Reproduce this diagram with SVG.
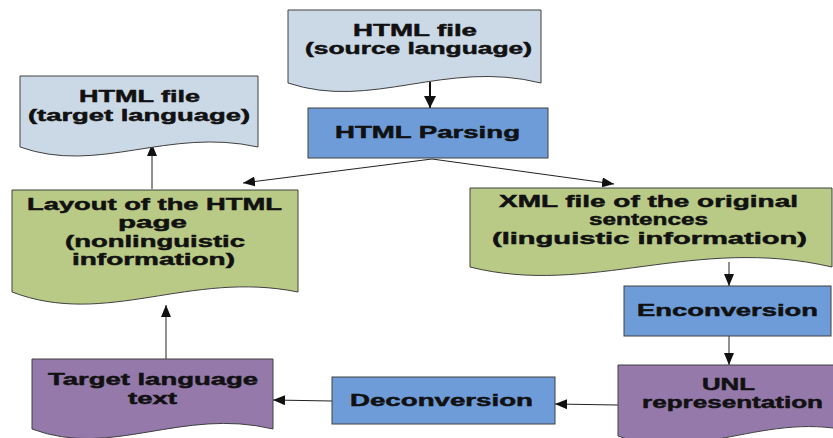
<svg xmlns="http://www.w3.org/2000/svg" width="833" height="438" viewBox="0 0 833 438">
  <defs>
    <style>
      .doc-blue { fill: #cbd8e6; stroke: #404040; stroke-width: 1; }
      .doc-green { fill: #b9ca86; stroke: #404040; stroke-width: 1; }
      .doc-purple { fill: #9479aa; stroke: #404040; stroke-width: 1; }
      .proc { fill: #6e9cd9; stroke: #404040; stroke-width: 1; }
      .lbl { font-family: "Liberation Sans", Arial, sans-serif; font-weight: bold; font-size: 17px; fill: #111; stroke: #111; stroke-width: 0.5; text-anchor: middle; }
      .conn { stroke: #222; stroke-width: 1; fill: none; marker-end: url(#arrow); }
      .conn-thick { stroke: #111; stroke-width: 2; fill: none; marker-end: url(#arrow-big); }
    </style>
    <marker id="arrow" markerUnits="userSpaceOnUse" markerWidth="12" markerHeight="10" viewBox="0 0 12 10" refX="12" refY="5" orient="auto">
      <path d="M0,0 L12,5 L0,10 Z" fill="#111"/>
    </marker>
    <marker id="arrow-big" markerUnits="userSpaceOnUse" markerWidth="12" markerHeight="12" viewBox="0 0 12 12" refX="12" refY="6" orient="auto">
      <path d="M0,0 L12,6 L0,12 Z" fill="#111"/>
    </marker>
  </defs>

  <!-- connectors -->
  <g id="connectors">
    <line class="conn-thick" x1="430" y1="82" x2="430" y2="108"/>
    <line class="conn" x1="432" y1="159" x2="243" y2="183"/>
    <line class="conn" x1="432" y1="159" x2="614" y2="184"/>
    <line class="conn" x1="152" y1="189" x2="152" y2="144"/>
    <line class="conn" x1="729" y1="262" x2="729" y2="286"/>
    <line class="conn" x1="729" y1="336" x2="729" y2="365"/>
    <line class="conn" x1="618" y1="405" x2="555" y2="404"/>
    <line class="conn" x1="332" y1="401" x2="273" y2="400"/>
    <line class="conn" x1="166" y1="359" x2="166" y2="305"/>
  </g>

  <!-- source document -->
  <g id="html-source">
    <path class="doc-blue" d="M288,10 H541 V83 C445,59 371.5,111 288,83 Z"/>
    <text class="lbl" x="415" y="36" textLength="124" lengthAdjust="spacingAndGlyphs">HTML file</text>
    <text class="lbl" x="418.5" y="54" textLength="227" lengthAdjust="spacingAndGlyphs">(source language)</text>
  </g>

  <!-- parsing step -->
  <g id="html-parsing">
    <rect class="proc" x="308" y="108" width="240" height="50"/>
    <text class="lbl" x="427.5" y="138" textLength="185" lengthAdjust="spacingAndGlyphs">HTML Parsing</text>
  </g>

  <!-- target document -->
  <g id="html-target">
    <path class="doc-blue" d="M20,76 H258 V147 C167.6,127 98.5,175 20,147 Z"/>
    <text class="lbl" x="139.5" y="102" textLength="121" lengthAdjust="spacingAndGlyphs">HTML file</text>
    <text class="lbl" x="139" y="121" textLength="222" lengthAdjust="spacingAndGlyphs">(target language)</text>
  </g>

  <!-- page layout -->
  <g id="layout">
    <path class="doc-green" d="M12,190 H298 V292 C189.3,270 106.4,328 12,292 Z"/>
    <text class="lbl" x="154.5" y="210" textLength="255" lengthAdjust="spacingAndGlyphs">Layout of the HTML</text>
    <text class="lbl" x="152.5" y="228" textLength="69" lengthAdjust="spacingAndGlyphs">page</text>
    <text class="lbl" x="155" y="247" textLength="180" lengthAdjust="spacingAndGlyphs">(nonlinguistic</text>
    <text class="lbl" x="153.5" y="265" textLength="163" lengthAdjust="spacingAndGlyphs">information)</text>
  </g>

  <!-- sentences file -->
  <g id="xml-sentences">
    <path class="doc-green" d="M470,188 H832 V267 C694.4,235 589.5,297 470,267 Z"/>
    <text class="lbl" x="648.5" y="207" textLength="299" lengthAdjust="spacingAndGlyphs">XML file of the original</text>
    <text class="lbl" x="648.5" y="225" textLength="119" lengthAdjust="spacingAndGlyphs">sentences</text>
    <text class="lbl" x="649.5" y="244" textLength="315" lengthAdjust="spacingAndGlyphs">(linguistic information)</text>
  </g>

  <!-- enconversion -->
  <g id="enconversion">
    <rect class="proc" x="624" y="286" width="207" height="50"/>
    <text class="lbl" x="727.5" y="316" textLength="181" lengthAdjust="spacingAndGlyphs">Enconversion</text>
  </g>

  <!-- UNL -->
  <g id="unl">
    <path class="doc-purple" d="M618,365 H868 V436 C773,404 700,466 618,436 Z"/>
    <text class="lbl" x="728.5" y="390" textLength="53" lengthAdjust="spacingAndGlyphs">UNL</text>
    <text class="lbl" x="732.5" y="408" textLength="181" lengthAdjust="spacingAndGlyphs">representation</text>
  </g>

  <!-- deconversion -->
  <g id="deconversion">
    <rect class="proc" x="332" y="377" width="223" height="47"/>
    <text class="lbl" x="441.5" y="406" textLength="183" lengthAdjust="spacingAndGlyphs">Deconversion</text>
  </g>

  <!-- target text -->
  <g id="target-text">
    <path class="doc-purple" d="M32,359 H273 V429 C181.4,407 111.5,459 32,429 Z"/>
    <text class="lbl" x="153" y="385" textLength="210" lengthAdjust="spacingAndGlyphs">Target language</text>
    <text class="lbl" x="152.5" y="404" textLength="49" lengthAdjust="spacingAndGlyphs">text</text>
  </g>
</svg>
